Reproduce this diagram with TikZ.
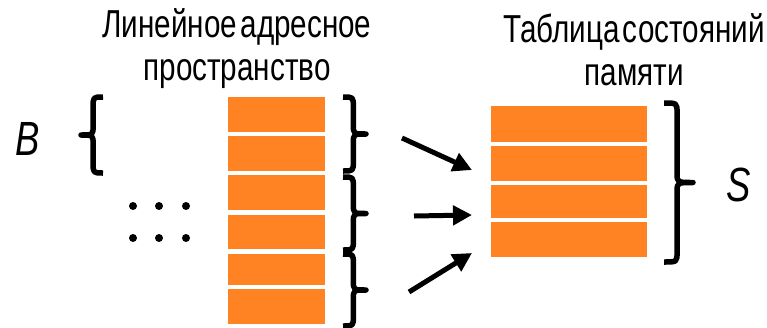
\documentclass[tikz,border=0pt]{standalone}
\usepackage{fontspec}
\setmainfont{Liberation Sans}
\newfontfamily\condfont[FakeStretch=0.76,WordSpace=0.4]{Liberation Sans}
\usetikzlibrary{arrows.meta}
\definecolor{cellorange}{RGB}{255,131,34}
\newcommand\DrawBrace[4]{% x of ends, y top, y bottom, signed width
  \pgfmathsetmacro\bm{(#2+#3)/2}%
  \pgfmathsetmacro\bx{#1+0.45*(#4)}%
  \pgfmathsetmacro\bt{#1+(#4)}%
  \draw[bracestroke] (#1,#2) .. controls (\bx,#2) .. (\bx,#2+10) -- (\bx,\bm-9)
    .. controls (\bx,\bm) .. (\bt,\bm) .. controls (\bx,\bm) .. (\bx,\bm+9)
    -- (\bx,#3-10) .. controls (\bx,#3) .. (#1,#3);%
}
\begin{document}
\begin{tikzpicture}[x=1pt,y=-1pt,
  cell/.style={fill=cellorange, draw=none, inner sep=0pt, anchor=north west},
  title/.style={font=\condfont\fontsize{39}{43}\selectfont, align=center, inner sep=0pt, anchor=base},
  var/.style={font=\condfont\itshape\fontsize{48}{48}\selectfont, inner sep=0pt, anchor=base},
  dotmark/.style={circle, fill=black, inner sep=0pt, minimum size=8pt},
  bracestroke/.style={line width=5.5pt, line join=round},
  arr/.style={line width=5pt, -{Triangle[length=19pt,width=19pt]}}]
\useasboundingbox (0,0) rectangle (767,327);

% titles (base anchor = baseline of last line)
\node[title] (t1) at (237,80) {Линейное адресное\\пространство};
\node[title] (t2) at (634,85) {Таблица состояний\\памяти};

% variables
\node[var] (B) at (28,155) {B};
\node[var] (S) at (739,201) {S};

% left column (linear address space)
\node[cell, minimum width=97pt, minimum height=35pt] (l1) at (228,97) {};
\node[cell, minimum width=97pt, minimum height=35pt] (l2) at (228,136) {};
\node[cell, minimum width=97pt, minimum height=35pt] (l3) at (228,175) {};
\node[cell, minimum width=97pt, minimum height=34pt] (l4) at (228,215) {};
\node[cell, minimum width=97pt, minimum height=31pt] (l5) at (228,254) {};
\node[cell, minimum width=97pt, minimum height=35pt] (l6) at (228,289) {};

% right column (memory state table)
\node[cell, minimum width=156pt, minimum height=36pt] (r1) at (491,106) {};
\node[cell, minimum width=156pt, minimum height=35pt] (r2) at (491,146) {};
\node[cell, minimum width=156pt, minimum height=33pt] (r3) at (491,185) {};
\node[cell, minimum width=156pt, minimum height=35pt] (r4) at (491,222) {};

% dots
\node[dotmark] (d1) at (133,206) {};
\node[dotmark] (d2) at (159,206) {};
\node[dotmark] (d3) at (186,206) {};
\node[dotmark] (d4) at (133,238) {};
\node[dotmark] (d5) at (159,238) {};
\node[dotmark] (d6) at (186,238) {};

% braces
\DrawBrace{103}{97}{173}{-22}
\DrawBrace{343}{97}{171}{23}
\DrawBrace{343}{177}{250}{23}
\DrawBrace{343}{254}{326}{23}
\DrawBrace{664}{103}{262}{29}

% arrows
\coordinate (a1s) at (402,138);
\coordinate (a1e) at (472,170);
\coordinate (a2s) at (414,216);
\coordinate (a2e) at (472,215);
\coordinate (a3s) at (409,292);
\coordinate (a3e) at (472,253);
\draw[arr] (a1s) -- (a1e);
\draw[arr] (a2s) -- (a2e);
\draw[arr] (a3s) -- (a3e);
\end{tikzpicture}
\end{document}
